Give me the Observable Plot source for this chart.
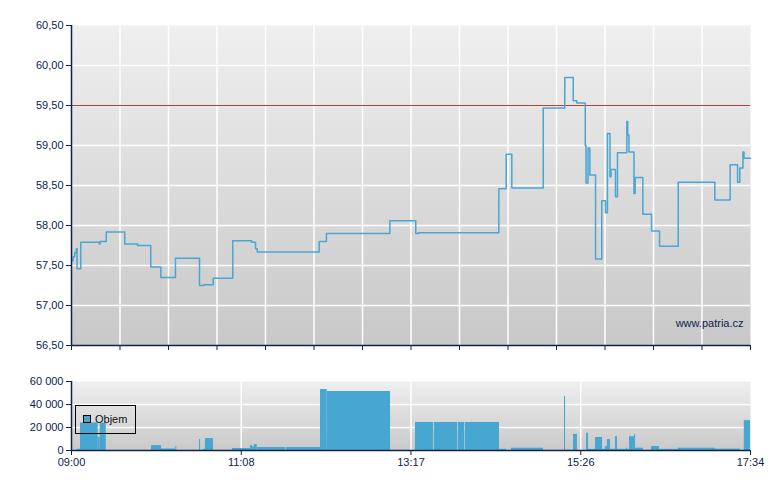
<!DOCTYPE html>
<html><head><meta charset="utf-8">
<script src="https://cdn.jsdelivr.net/npm/d3@7"></script>
<script src="https://cdn.jsdelivr.net/npm/@observablehq/plot@0.6"></script>
<style>
body{margin:0;background:#fff;font-family:"Liberation Sans",Arial,sans-serif;}
#wrap{position:relative;width:780px;height:490px;overflow:hidden;}
#wrap svg{display:block;}
#legend{position:absolute;left:75px;top:405px;width:61px;height:29px;border:1px solid #000;box-sizing:border-box;font-size:11px;color:#111;}
#legend .sw{position:absolute;left:7px;top:9px;width:8px;height:8px;border:1px solid #000;background:#47a7d0;box-sizing:border-box;}
#legend .lb{position:absolute;left:19px;top:7px;line-height:12px;}
</style>
</head><body>
<div id="wrap"><div id="top"></div><div id="bottom"></div>
<div id="legend"><div class="sw"></div><div class="lb">Objem</div></div></div>
<script>
// ---- data ----
const sessionMinutes = 514;               // 09:00 -> 17:34
const xTickLabels = ["09:00", "11:08", "13:17", "15:26", "17:34"];
const priceTicks = [56.5, 57, 57.5, 58, 58.5, 59, 59.5, 60, 60.5];
const volumeTicks = [0, 20000, 40000, 60000];
const refPrice = 59.5;
const watermark = "www.patria.cz";
const legendLabel = "Objem";

// price: minutes after 09:00, price holds until next point
const priceTimes = [0, 1.2, 2.4, 3.6, 4.2, 7.0, 21.0, 21.7, 26.3, 40.3, 50.0, 60.0, 67.6, 78.7, 96.9, 100.2, 107.3, 122.1, 136.3, 139.3, 140.6, 187.5, 193.0, 241.0, 260.6, 262.7, 323.5, 329.1, 333.3, 357.1, 373.4, 379.8, 382.5, 388.9, 389.5, 391.0, 392.4, 396.7, 401.4, 404.2, 405.7, 407.6, 408.4, 411.8, 413.3, 420.4, 421.1, 422.0, 425.8, 426.7, 432.5, 439.1, 445.1, 459.3, 487.0, 498.6, 504.2, 505.9, 508.3, 509.1, 514];
const priceValues = [57.56, 57.61, 57.66, 57.71, 57.46, 57.79, 57.77, 57.80, 57.92, 57.77, 57.75, 57.48, 57.35, 57.59, 57.25, 57.26, 57.34, 57.81, 57.79, 57.71, 57.67, 57.80, 57.90, 58.06, 57.90, 57.91, 58.46, 58.89, 58.47, 59.47, 59.85, 59.56, 59.53, 59.00, 58.53, 58.97, 58.63, 57.58, 58.31, 58.16, 59.15, 58.61, 58.70, 58.36, 58.91, 59.30, 59.13, 58.92, 58.40, 58.60, 58.14, 57.93, 57.74, 58.54, 58.32, 58.76, 58.54, 58.72, 58.92, 58.84, 58.84];

// volume bars: start/end minute, volume
const volStart = [4.3, 6.8, 20.2, 21.7, 60.6, 68.1, 79.0, 96.9, 99.7, 101.4, 121.9, 135.5, 137.0, 138.5, 140.6, 162.5, 188.5, 193.6, 260.4, 274.6, 292.7, 298.0, 324.0, 333.1, 373.2, 380.0, 389.9, 391.4, 396.7, 402.0, 404.2, 405.7, 408.0, 411.8, 413.3, 420.1, 420.9, 422.4, 426.2, 427.0, 439.1, 445.1, 459.5, 487.5, 509.3];
const volEnd   = [6.8, 20.2, 21.7, 26.3, 68.1, 79.0, 79.7, 97.7, 101.4, 107.5, 135.5, 137.0, 138.5, 140.6, 162.0, 188.5, 193.6, 241.5, 274.0, 292.2, 297.5, 324.0, 329.3, 357.3, 374.0, 383.0, 391.4, 396.7, 402.0, 404.2, 405.7, 408.0, 411.8, 413.3, 420.1, 420.9, 422.4, 426.2, 427.0, 433.0, 445.1, 459.5, 487.5, 506.4, 514];
const volValues = [1000, 24000, 11300, 23700, 4300, 1300, 3500, 9600, 1000, 10400, 1700, 4300, 3200, 5200, 2600, 2600, 53000, 51300, 24400, 24400, 24400, 24400, 1000, 2000, 47000, 14000, 15000, 1000, 11300, 1000, 3500, 9500, 1000, 12000, 1000, 2000, 1000, 12000, 14000, 2000, 3500, 1000, 2000, 1200, 26000];

// ---- build tables ----
const prices = priceTimes.map((t, i) => ({t, p: priceValues[i]}));
const volumes = volStart.map((s, i) => ({s, e: volEnd[i], v: volValues[i]}));

const navy = "#0c2350";
const lineBlue = "#4aa6d2";
const barBlue = "#47a7d0";
const font = "'Liberation Sans', Arial, sans-serif";
const gridStep = sessionMinutes / 14;
const topTicks = d3.range(15).map(i => i * gridStep);
const labelStep = sessionMinutes / (xTickLabels.length - 1);
const labelTicks = xTickLabels.map((_, i) => i * labelStep);
const fmtPrice = d => d.toFixed(2).replace(".", ",");
const fmtVol = d => d3.format(",")(d).replace(/,/g, " ");

const topPlot = Plot.plot({
  width: 780, height: 355,
  marginLeft: 71, marginRight: 30, marginTop: 25, marginBottom: 10,
  x: {domain: [0, sessionMinutes]},
  y: {domain: [56.5, 60.5]},
  style: {fontFamily: font, fontSize: "11px", color: navy, background: "transparent"},
  marks: [
    Plot.frame({fill: "url(#gTop)", stroke: null}),
    Plot.gridX(topTicks.slice(1, -1), {stroke: "#fff", strokeOpacity: 1, strokeWidth: 1.5}),
    Plot.gridY(priceTicks.slice(1, -1), {stroke: "#fff", strokeOpacity: 1, strokeWidth: 1.5}),
    Plot.ruleY([refPrice], {stroke: "#c0392b", strokeWidth: 1}),
    Plot.line(prices, {x: "t", y: "p", curve: "step-after", stroke: lineBlue, strokeWidth: 1.5}),
    Plot.text([watermark], {frameAnchor: "bottom-right", textAnchor: "end", lineAnchor: "middle", dx: -7, dy: -22, fill: navy, fontSize: 11}),
    Plot.axisY(priceTicks, {tickSize: 5, tickPadding: 3, tickFormat: fmtPrice, stroke: navy, fill: navy, label: null}),
    Plot.axisX(topTicks, {tickSize: 5, tickFormat: () => "", stroke: navy, label: null}),
    Plot.ruleX([0], {stroke: navy, strokeWidth: 1.5}),
    Plot.ruleY([56.5], {stroke: navy, strokeWidth: 1.5})
  ]
});

const bottomPlot = Plot.plot({
  width: 780, height: 135,
  marginLeft: 71, marginRight: 30, marginTop: 26, marginBottom: 40,
  x: {domain: [0, sessionMinutes]},
  y: {domain: [0, 60000]},
  style: {fontFamily: font, fontSize: "11px", color: navy, background: "transparent"},
  marks: [
    Plot.frame({fill: "url(#gBot)", stroke: null}),
    Plot.gridX(labelTicks.slice(1, -1), {stroke: "#fff", strokeOpacity: 1, strokeWidth: 1.5}),
    Plot.gridY(volumeTicks.slice(1, -1), {stroke: "#fff", strokeOpacity: 1, strokeWidth: 1.5}),
    Plot.rectY(volumes, {x1: "s", x2: "e", y: "v", fill: barBlue}),
    Plot.axisY(volumeTicks, {tickSize: 5, tickPadding: 3, tickFormat: fmtVol, stroke: navy, fill: navy, label: null}),
    Plot.axisX(labelTicks, {tickSize: 5, tickPadding: 3, tickFormat: d => xTickLabels[Math.round(d / labelStep)], stroke: navy, fill: navy, label: null}),
    Plot.ruleX([0], {stroke: navy, strokeWidth: 1.5}),
    Plot.ruleY([0], {stroke: navy, strokeWidth: 1.5})
  ]
});

topPlot.insertAdjacentHTML("afterbegin", '<defs><linearGradient id="gTop" x1="0" y1="0" x2="0" y2="1"><stop offset="0" stop-color="#efefef"/><stop offset="1" stop-color="#c8c8c8"/></linearGradient></defs>');
bottomPlot.insertAdjacentHTML("afterbegin", '<defs><linearGradient id="gBot" x1="0" y1="0" x2="0" y2="1"><stop offset="0" stop-color="#efefef"/><stop offset="1" stop-color="#c9c9c9"/></linearGradient></defs>');

document.getElementById("top").appendChild(topPlot);
document.getElementById("bottom").appendChild(bottomPlot);
document.querySelector("#legend .lb").textContent = legendLabel;
</script>
</body></html>
